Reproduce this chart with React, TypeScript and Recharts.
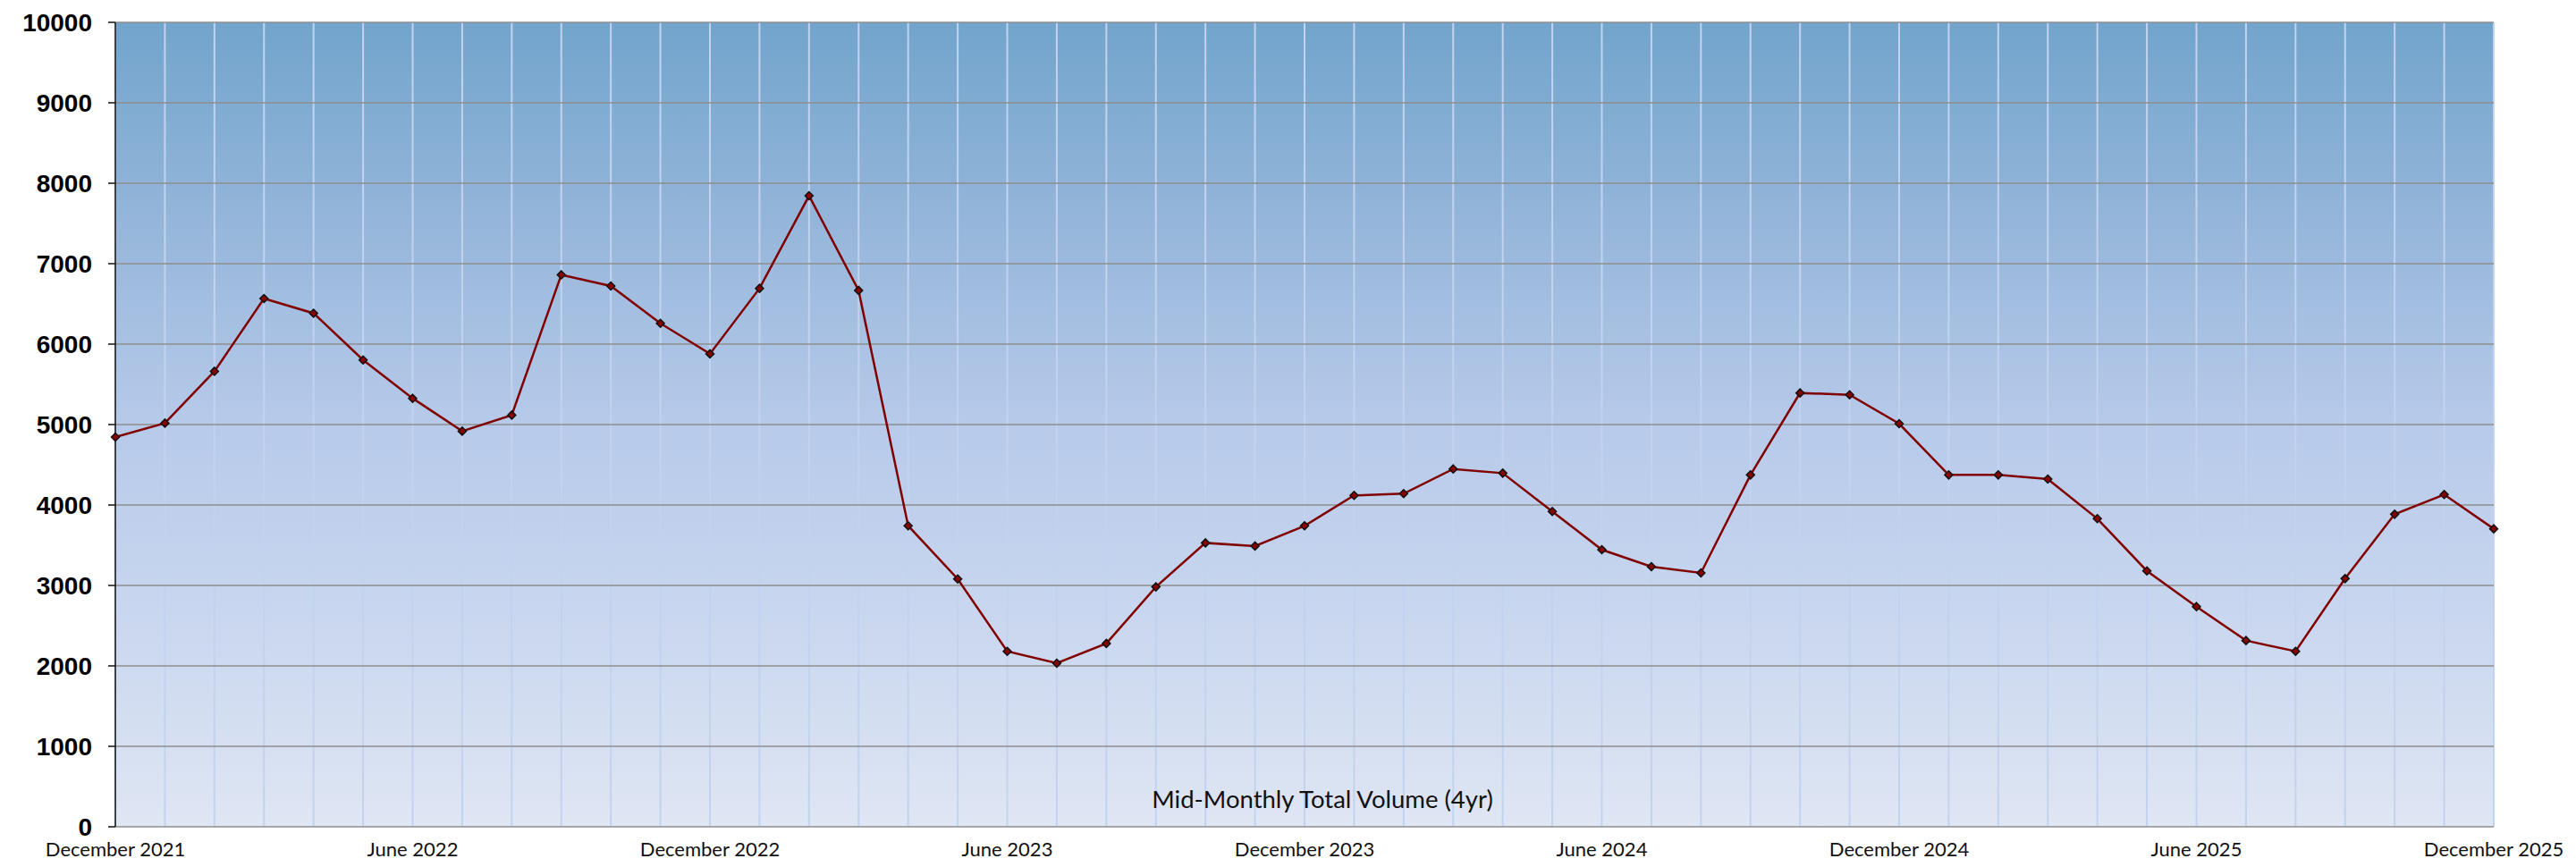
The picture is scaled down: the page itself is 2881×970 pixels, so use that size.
import { LineChart, Line, XAxis, YAxis, CartesianGrid } from 'recharts';

const months = [
  'December 2021', 'January 2022', 'February 2022', 'March 2022', 'April 2022', 'May 2022',
  'June 2022', 'July 2022', 'August 2022', 'September 2022', 'October 2022', 'November 2022',
  'December 2022', 'January 2023', 'February 2023', 'March 2023', 'April 2023', 'May 2023',
  'June 2023', 'July 2023', 'August 2023', 'September 2023', 'October 2023', 'November 2023',
  'December 2023', 'January 2024', 'February 2024', 'March 2024', 'April 2024', 'May 2024',
  'June 2024', 'July 2024', 'August 2024', 'September 2024', 'October 2024', 'November 2024',
  'December 2024', 'January 2025', 'February 2025', 'March 2025', 'April 2025', 'May 2025',
  'June 2025', 'July 2025', 'August 2025', 'September 2025', 'October 2025', 'November 2025',
  'December 2025',
];

const volume = [
  4845, 5018, 5662, 6567, 6384, 5803, 5326, 4918, 5118, 6862, 6722, 6259,
  5879, 6693, 7844, 6668, 3742, 3081, 2181, 2033, 2279, 2982, 3529, 3490,
  3741, 4119, 4141, 4448, 4396, 3919, 3444, 3233, 3156, 4374, 5393, 5370,
  5011, 4374, 4374, 4322, 3830, 3181, 2737, 2315, 2181, 3085, 3885, 4130,
  3704,
];

const tickLabels = [
  'December 2021', 'June 2022', 'December 2022', 'June 2023', 'December 2023',
  'June 2024', 'December 2024', 'June 2025', 'December 2025',
];

const yTicks = [0, 1000, 2000, 3000, 4000, 5000, 6000, 7000, 8000, 9000, 10000];

const title = 'Mid-Monthly Total Volume (4yr)';

const data = months.map((month, i) => ({ month, volume: volume[i] }));

function MonthTick(props: any) {
  const { x, y, payload } = props;
  if (!tickLabels.includes(payload.value)) return null;
  return (
    <text
      x={x}
      y={y + 33}
      textAnchor="middle"
      fontFamily="Lato, sans-serif"
      fontSize={22}
      fill="#111"
    >
      {payload.value}
    </text>
  );
}

function Diamond(props: any) {
  const { cx, cy } = props;
  if (cx == null || cy == null) return null;
  const r = 4.5;
  return (
    <path
      d={`M${cx},${cy - r} L${cx + r},${cy} L${cx},${cy + r} L${cx - r},${cy} Z`}
      fill="#8b0000"
      stroke="#111"
      strokeWidth={1.5}
    />
  );
}

export default function App() {
  return (
    <div style={{ position: 'absolute', left: 0, top: 0, width: 2881, height: 970, background: '#fff' }}>
      <LineChart
        width={2881}
        height={970}
        data={data}
        margin={{ top: 25, right: 92, left: 0, bottom: 0 }}
      >
        <defs>
          <linearGradient id="plotBg" x1="0" y1="0" x2="0" y2="1">
            <stop offset="0%" stopColor="#72a4cc" />
            <stop offset="25%" stopColor="#95b6da" />
            <stop offset="50%" stopColor="#b7caea" />
            <stop offset="75%" stopColor="#cad7ef" />
            <stop offset="100%" stopColor="#dfe6f4" />
          </linearGradient>
        </defs>
        <CartesianGrid
          horizontal={false}
          stroke="#c2d3ef"
          strokeWidth={2}
          fill="url(#plotBg)"
          fillOpacity={1}
        />
        <CartesianGrid vertical={false} stroke="#8e8e8e" strokeWidth={1.5} />
        <XAxis
          dataKey="month"
          interval={0}
          axisLine={false}
          tickLine={false}
          tickSize={0}
          tickMargin={0}
          height={45}
          tick={<MonthTick />}
        />
        <YAxis
          domain={[0, 10000]}
          ticks={yTicks}
          width={129}
          axisLine={{ stroke: '#111', strokeWidth: 1.5 }}
          tickLine={{ stroke: '#111', strokeWidth: 1.5 }}
          tickSize={8}
          tickMargin={18}
          tick={{
            fontFamily: '"Liberation Sans", Arial, sans-serif',
            fontWeight: 700,
            fontSize: 28,
            fill: '#000',
          }}
        />
        <Line
          type="linear"
          dataKey="volume"
          stroke="#800000"
          strokeWidth={2.5}
          dot={<Diamond />}
          activeDot={false}
          isAnimationActive={false}
        />
      </LineChart>
      <div
        style={{
          position: 'absolute',
          left: 1479,
          top: 878,
          transform: 'translateX(-50%)',
          fontFamily: 'Lato, sans-serif',
          fontSize: 27.5,
          color: '#111',
          whiteSpace: 'nowrap',
          lineHeight: '32px',
        }}
      >
        {title}
      </div>
    </div>
  );
}
